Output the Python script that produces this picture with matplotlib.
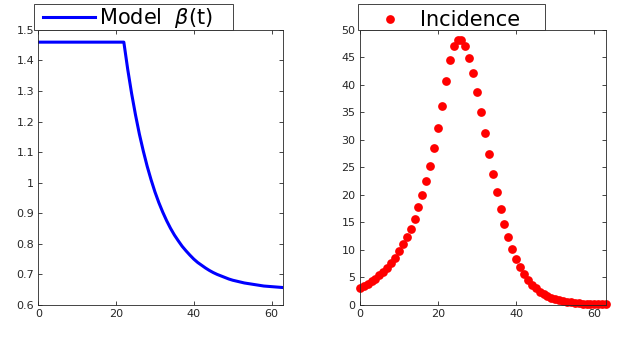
import numpy as np
import matplotlib
matplotlib.use('Agg')
import matplotlib.pyplot as plt
from matplotlib.patches import Rectangle

plt.rcParams['font.family'] = ['DejaVu Sans']

# Model beta(t): flat until t=22, then decays
beta_t = [0] + list(range(22, 64))
beta_vals = [1.460,
             1.460, 1.371, 1.292, 1.222, 1.159, 1.104, 1.054, 1.010, 0.970, 0.935,
             0.904, 0.876, 0.851, 0.829, 0.810, 0.792, 0.777, 0.763, 0.750, 0.739,
             0.730, 0.721, 0.713, 0.706, 0.700, 0.695, 0.690, 0.685, 0.681, 0.678,
             0.675, 0.672, 0.670, 0.668, 0.666, 0.664, 0.662, 0.661, 0.660, 0.659,
             0.658, 0.657]

# Incidence, t = 0..63
inc_t = list(range(64))
inc_vals = [3.0, 3.4, 3.85, 4.3, 4.8, 5.4, 6.0, 6.7, 7.6, 8.6,
            9.8, 11.0, 12.4, 13.9, 15.7, 17.8, 20.0, 22.5, 25.3, 28.6,
            32.2, 36.2, 40.8, 44.5, 47.0, 48.1, 48.1, 47.0, 44.9, 42.1,
            38.7, 35.0, 31.2, 27.5, 23.8, 20.5, 17.5, 14.7, 12.3, 10.2,
            8.4, 6.85, 5.6, 4.5, 3.7, 3.0, 2.45, 2.0, 1.6, 1.3,
            1.05, 0.85, 0.7, 0.57, 0.47, 0.38, 0.31, 0.26, 0.21, 0.18,
            0.15, 0.13, 0.11, 0.10]

fig = plt.figure(figsize=(6.38, 3.4), dpi=100)
ax1 = fig.add_axes([0.060, 0.103, 0.384, 0.809])
ax2 = fig.add_axes([0.564, 0.103, 0.386, 0.809])

ax1.plot(beta_t, beta_vals, color='#0000ff', linewidth=2.2, label=r'Model  $\beta$(t)')
ax1.set_xlim(0, 63)
ax1.set_ylim(0.6, 1.5)
ax1.set_xticks([0, 20, 40, 60])
ax1.set_yticks(np.arange(0.6, 1.51, 0.1))
ax1.set_yticklabels(['0.6', '0.7', '0.8', '0.9', '1', '1.1', '1.2', '1.3', '1.4', '1.5'])

ax2.plot(inc_t, inc_vals, 'o', color='#ff0000', markersize=6.3, markeredgewidth=0,
         label='Incidence', clip_on=False)
ax2.set_xlim(0, 63)
ax2.set_ylim(0, 50)
ax2.set_xticks([0, 20, 40, 60])
ax2.set_yticks(range(0, 51, 5))

# legend frame (x offset, width) and handle start, in axes fraction
leg_frames = {ax1: (-0.018, 0.811, 0.018), ax2: (-0.008, 0.76, 0.015)}

for ax in (ax1, ax2):
    ax.tick_params(direction='in', top=True, right=True, length=3, width=0.6,
                   labelsize=8, colors='#262626', pad=3)
    for s in ax.spines.values():
        s.set_linewidth(0.6)
        s.set_color('#262626')
    x0, w, hx = leg_frames[ax]
    ax.add_patch(Rectangle((x0, 1.0), w, 0.0945, transform=ax.transAxes,
                           facecolor='white', edgecolor='#262626', linewidth=0.6,
                           clip_on=False, zorder=5))
    leg = ax.legend(loc='lower left', bbox_to_anchor=(hx, 1.0), borderaxespad=0,
                    fontsize=15, handlelength=2.5, handletextpad=0.2,
                    borderpad=0.0, frameon=False, numpoints=1)
    leg.set_zorder(6)

fig.savefig('out.png', dpi=100)
